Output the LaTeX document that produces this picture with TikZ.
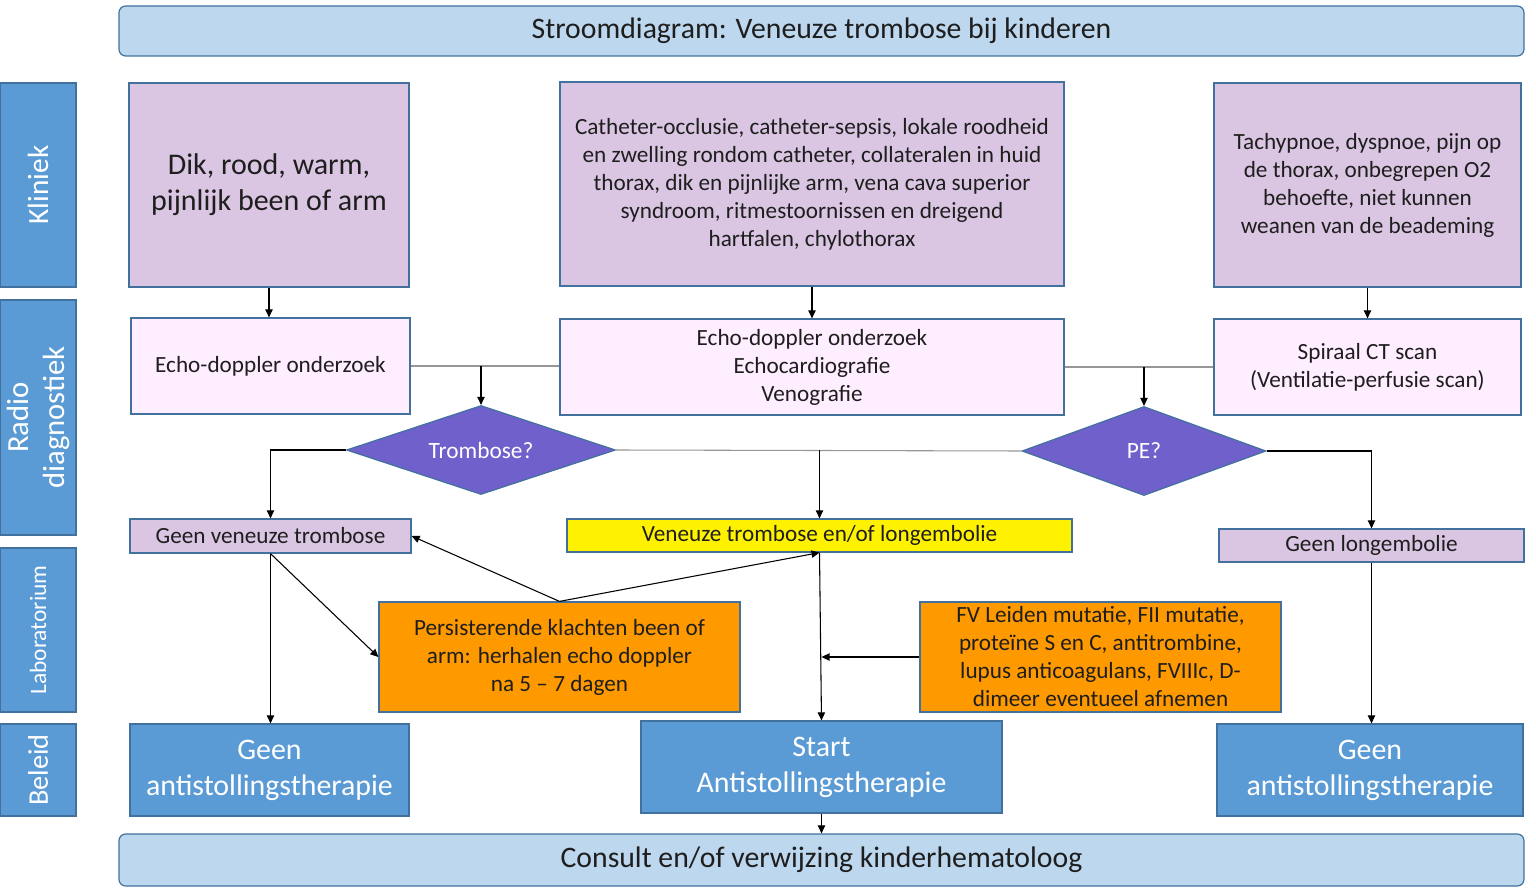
\documentclass[tikz,border=0pt]{standalone}
\usepackage{fontspec}
\setmainfont{Carlito}
\usetikzlibrary{shapes.geometric,arrows.meta}
\definecolor{bordc}{RGB}{65,113,156}
\definecolor{titlef}{RGB}{189,215,238}
\definecolor{sidef}{RGB}{91,155,213}
\definecolor{klinf}{RGB}{218,198,226}
\definecolor{radf}{RGB}{255,238,255}
\definecolor{diaf}{RGB}{112,96,204}
\definecolor{orf}{RGB}{255,153,0}
\definecolor{txt}{RGB}{30,30,30}
\definecolor{grayline}{RGB}{150,150,150}
\tikzset{
  sz/.style 2 args={minimum width=#1*0.75pt, minimum height=#2*0.75pt},
  box/.style={draw=bordc, line width=0.9pt, inner sep=2pt, align=center, text=txt, font=\fontsize{17.4}{21}\selectfont},
  titlebox/.style={box, fill=titlef, rounded corners=5pt, font=\fontsize{22.3}{26}\selectfont},
  sidebox/.style={box, fill=sidef, text=white, rotate=90, font=\fontsize{22}{26}\selectfont},
  klin/.style={box, fill=klinf},
  rad/.style={box, fill=radf},
  dia/.style={diamond, aspect=3, draw=bordc, line width=0.9pt, fill=diaf, text=white, inner sep=0pt, font=\fontsize{17.5}{20}\selectfont},
  orbox/.style={box, fill=orf},
  pol/.style={box, fill=sidef, text=white, font=\fontsize{22.4}{27}\selectfont},
  arr/.style={-{Triangle[length=6pt,width=5.5pt]}, line width=0.8pt, black},
  gline/.style={line width=0.8pt, grayline},
}
\begin{document}
\begin{tikzpicture}[x=0.75pt,y=-0.75pt]
\useasboundingbox (0,0) rectangle (1536,891);
% title and bottom
\node[titlebox, sz={1405}{50}] (title) at (821.5,31) {Stroomdiagram: Veneuze trombose bij kinderen};
\node[titlebox, sz={1405}{52}] (consult) at (821.5,860) {Consult en/of verwijzing kinderhematoloog};
% side labels (rotated: width/height swapped)
\node[sidebox, sz={204}{76}] (sk) at (38,185) {Kliniek};
\node[sidebox, sz={235}{76}, font=\fontsize{23}{27}\selectfont] (sr) at (38,417.5) {Radio\\diagnostiek};
\node[sidebox, sz={164}{76}, font=\fontsize{17.6}{20}\selectfont] (sl) at (38,630) {Laboratorium};
\node[sidebox, sz={92}{76}, font=\fontsize{21.3}{25}\selectfont] (sb) at (38,770) {Beleid};
% kliniek
\node[klin, sz={280}{204}, font=\fontsize{22.5}{27}\selectfont] (k1) at (269,185) {Dik, rood, warm,\\pijnlijk been of arm};
\node[klin, sz={504}{204}] (k2) at (812,184) {Catheter-occlusie, catheter-sepsis, lokale roodheid\\en zwelling rondom catheter, collateralen in huid\\thorax, dik en pijnlijke arm, vena cava superior\\syndroom, ritmestoornissen en dreigend\\hartfalen, chylothorax};
\node[klin, sz={307}{204}] (k3) at (1367.5,185) {Tachypnoe, dyspnoe, pijn op\\de thorax, onbegrepen O2\\behoefte, niet kunnen\\weanen van de beademing};
% radio
\node[rad, sz={279}{96}] (r1) at (270.5,366) {Echo-doppler onderzoek};
\node[rad, sz={504}{96}] (r2) at (812,367) {Echo-doppler onderzoek\\Echocardiografie\\Venografie};
\node[rad, sz={307}{96}] (r3) at (1367.5,367) {Spiraal CT scan\\(Ventilatie-perfusie scan)};
% diamonds
\node[dia, sz={269}{89}] (d1) at (481,450) {Trombose?};
\node[dia, sz={244}{89}] (d2) at (1144,451) {PE?};
% results
\node[klin, sz={281}{34}, inner sep=0pt] (g1) at (270.5,536) {Geen veneuze trombose};
\node[box, fill=yellow, sz={505}{33}, inner sep=0pt] (ye) at (819.5,535.5) {Veneuze trombose en/of longembolie};
\node[klin, sz={305}{33}, inner sep=0pt] (g3) at (1371.5,545.5) {Geen longembolie};
% lab
\node[orbox, sz={361}{110}] (p) at (559.5,657) {Persisterende klachten been of\\arm: herhalen echo doppler\\na 5 -- 7 dagen};
\node[orbox, sz={361}{110}] (fv) at (1100.5,657) {FV Leiden mutatie, FII mutatie,\\proteïne S en C, antitrombine,\\lupus anticoagulans, FVIIIc, D-\\dimeer eventueel afnemen};
% beleid
\node[pol, sz={279}{92}] (b1) at (269.5,770) {Geen\\antistollingstherapie};
\node[pol, sz={361}{92}] (b2) at (821.5,767) {Start\\Antistollingstherapie};
\node[pol, sz={306}{92}] (b3) at (1370,770) {Geen\\antistollingstherapie};
% connectors
\draw[arr] (k1.south) -- (k1.south |- r1.north);
\draw[arr] (k2.south) -- (r2.north);
\draw[arr] (k3.south) -- (r3.north);
\draw[gline] (r1.east) -- (r1.east -| r2.west);
\draw[gline] (r2.east) -- (r3.west);
\coordinate (m1) at (d1.north |- r1.east);
\coordinate (m2) at (d2.north |- r2.east);
\draw[arr] (m1) -- (d1.north);
\draw[arr] (m2) -- (d2.north);
\draw[arr] (d1.west) -| (g1.north);
\draw[gline] (d1.east) -- (d2.west);
\coordinate (m3) at (ye.north |- d1.east);
\draw[arr] (m3) -- (ye.north);
\draw[arr] (d2.east) -| (g3.north);
\draw[arr] (g1.south) -- (g1.south |- b1.north);
\draw[arr] (g1.south) -- (p.west);
\draw[arr] (p.north) -- (g1.east);
\draw[arr] (p.north) -- (ye.south);
\draw[arr] (ye.south) -- (b2.north);
\draw[arr] (fv.west) -- (fv.west -| b2.north);
\draw[arr] (b2.south) -- (consult.north);
\draw[arr] (g3.south) -- (g3.south |- b3.north);
\end{tikzpicture}
\end{document}
